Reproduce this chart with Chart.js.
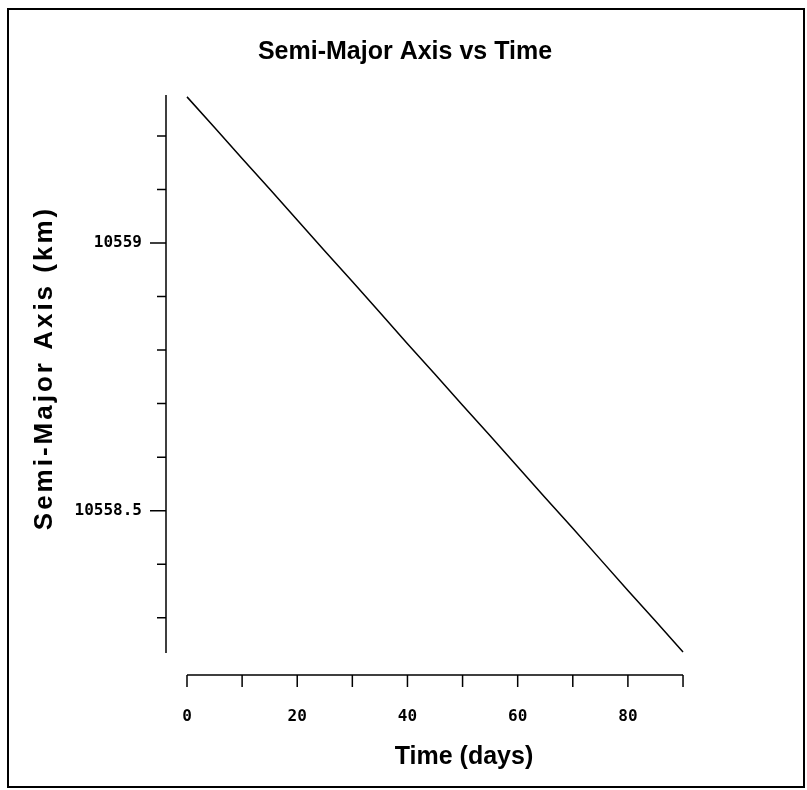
<!DOCTYPE html>
<html>
<head>
<meta charset="utf-8">
<title>Semi-Major Axis vs Time</title>
<script src="https://cdn.jsdelivr.net/npm/chart.js@4/dist/chart.umd.min.js"></script>
<style>
  html, body { margin: 0; padding: 0; background: #fff; }
  canvas { display: block; }
</style>
</head>
<body>
<canvas id="chart" width="807" height="790"></canvas>
<script>
// Orbit decay samples: elapsed time (days) and semi-major axis (km)
const days = [0, 5, 10, 15, 20, 25, 30, 35, 40, 45, 50, 55, 60, 65, 70, 75, 80, 85, 90];
const semiMajorAxis = [
  10559.273, 10559.216, 10559.158, 10559.101, 10559.043, 10558.985, 10558.928,
  10558.870, 10558.812, 10558.755, 10558.697, 10558.640, 10558.582, 10558.524,
  10558.467, 10558.409, 10558.351, 10558.294, 10558.236
];

// Labelled ticks on each axis
const yTickLabels = [10558.5, 10559];
const xTickLabels = [0, 20, 40, 60, 80];

// Extent of the drawn axis lines (data units)
const xAxisSpan = [0, 90];
const yAxisSpan = [10558.234, 10559.2765];

const isLabelled = (list, v) => list.some(l => Math.abs(l - v) < 1e-6);

// Axes are drawn detached from the plot area, as in classic plotting packages
const detachedAxes = {
  id: 'detachedAxes',
  beforeDraw(chart) {
    const { ctx } = chart;
    ctx.save();
    ctx.fillStyle = '#fff';
    ctx.fillRect(0, 0, chart.width, chart.height);
    ctx.strokeStyle = '#000';
    ctx.lineWidth = 2;
    ctx.strokeRect(8, 9, 796, 778);
    ctx.restore();
  },
  afterDraw(chart) {
    const { ctx, chartArea, scales: { x, y } } = chart;
    const ax = chartArea.left;
    const ay = chartArea.bottom;
    ctx.save();
    ctx.strokeStyle = '#000';
    ctx.lineWidth = 1.5;
    ctx.beginPath();

    // vertical axis and its ticks
    ctx.moveTo(ax, y.getPixelForValue(yAxisSpan[1]));
    ctx.lineTo(ax, y.getPixelForValue(yAxisSpan[0]));
    y.ticks.forEach(t => {
      if (t.value < yAxisSpan[0] || t.value > yAxisSpan[1]) return;
      const py = y.getPixelForValue(t.value);
      const len = isLabelled(yTickLabels, t.value) ? 16 : 9;
      ctx.moveTo(ax - len, py);
      ctx.lineTo(ax, py);
    });

    // horizontal axis and its ticks
    ctx.moveTo(x.getPixelForValue(xAxisSpan[0]), ay);
    ctx.lineTo(x.getPixelForValue(xAxisSpan[1]), ay);
    x.ticks.forEach(t => {
      if (t.value < xAxisSpan[0] || t.value > xAxisSpan[1]) return;
      const px = x.getPixelForValue(t.value);
      ctx.moveTo(px, ay);
      ctx.lineTo(px, ay + 12);
    });
    ctx.stroke();

    // vertical axis title, letter-spaced
    ctx.fillStyle = '#000';
    ctx.font = 'bold 26px "Liberation Sans", Arial, sans-serif';
    ctx.letterSpacing = '3px';
    ctx.textAlign = 'center';
    ctx.textBaseline = 'middle';
    ctx.translate(45, 368);
    ctx.rotate(-Math.PI / 2);
    ctx.fillText('Semi-Major Axis (km)', 0, 0);
    ctx.restore();
  }
};

const tickFont = { family: '"DejaVu Sans Mono", monospace', size: 16, weight: 'bold' };
const titleFont = { family: '"Liberation Sans", Arial, sans-serif', size: 25, weight: 'bold', lineHeight: 1.2 };

new Chart(document.getElementById('chart'), {
  type: 'scatter',
  data: {
    datasets: [{
      label: 'Semi-Major Axis',
      data: days.map((d, i) => ({ x: d, y: semiMajorAxis[i] })),
      showLine: true,
      borderColor: '#000',
      borderWidth: 1.5,
      pointRadius: 0,
      tension: 0
    }]
  },
  options: {
    responsive: false,
    animation: false,
    devicePixelRatio: 1,
    layout: { padding: { left: 48, right: 45, top: 0, bottom: 0 } },
    plugins: {
      legend: { display: false },
      tooltip: { enabled: false },
      title: {
        display: true,
        text: 'Semi-Major Axis vs Time',
        color: '#000',
        font: titleFont,
        padding: { top: 37, bottom: 28 }
      }
    },
    scales: {
      x: {
        type: 'linear',
        min: -3.81,
        max: 104.33,
        border: { display: false },
        grid: { display: false, drawTicks: false },
        ticks: {
          stepSize: 10,
          includeBounds: false,
          autoSkip: false,
          maxRotation: 0,
          padding: 32,
          color: '#000',
          font: tickFont,
          callback: v => isLabelled(xTickLabels, v) ? String(v) : ''
        },
        title: {
          display: true,
          text: 'Time (days)',
          color: '#000',
          font: titleFont,
          padding: { top: 0, bottom: 18 }
        },
        afterFit: s => { s.height = 115; }
      },
      y: {
        type: 'linear',
        min: 10558.193,
        max: 10559.2765,
        border: { display: false },
        grid: { display: false, drawTicks: false },
        ticks: {
          stepSize: 0.1,
          includeBounds: false,
          autoSkip: false,
          padding: 24,
          color: '#000',
          font: tickFont,
          callback: v => isLabelled(yTickLabels, v) ? String(+v.toFixed(1)) : ''
        },
        afterFit: s => { s.width = 118; }
      }
    }
  },
  plugins: [detachedAxes]
});
</script>
</body>
</html>
